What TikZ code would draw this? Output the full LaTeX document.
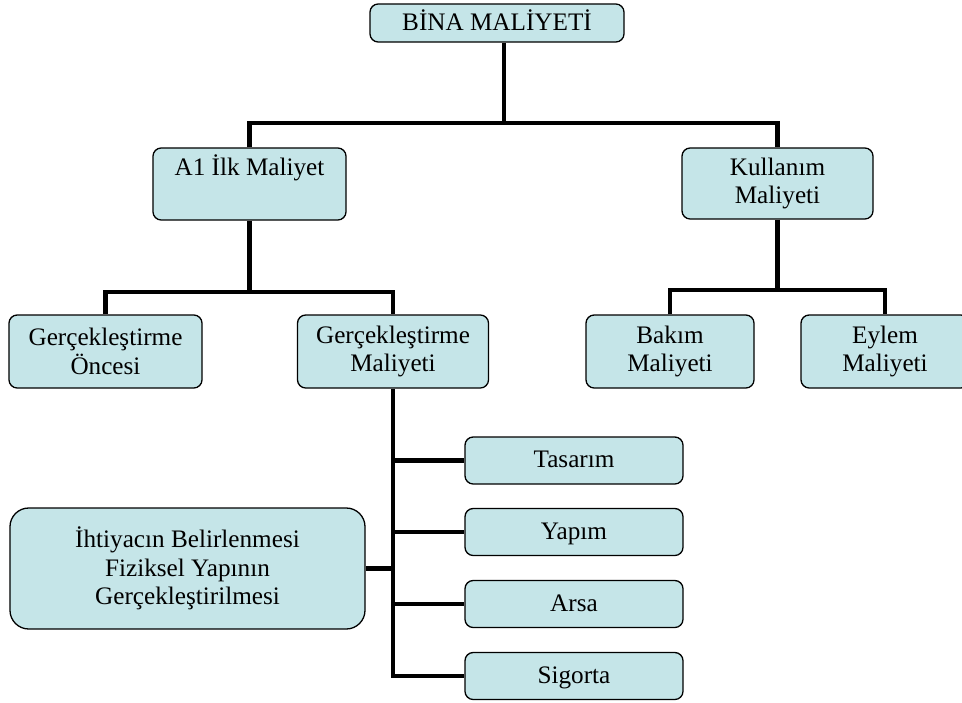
\documentclass[tikz,border=0pt]{standalone}
\usepackage{fontspec}
\setmainfont{Liberation Serif}
\definecolor{boxfill}{RGB}{197,229,232}
\tikzset{
    box/.style={draw, fill=boxfill, line width=1.1pt, rounded corners=7pt, inner sep=0pt,
        align=center, font=\fontsize{21.5}{24.5}\selectfont},
    leaf/.style={box, text height=15pt, text depth=3pt},
    link/.style={line width=4.2pt},
}
\begin{document}
\begin{tikzpicture}[x=0.03cm, y=-0.03cm]
    \useasboundingbox (0,0) rectangle (962,702);
    \clip (0,0) rectangle (962,702);
    \node[leaf, minimum width=7.62cm, minimum height=1.14cm] (bina) at (497,23) {B\.{I}NA MAL\.{I}YET\.{I}};
    \node[box, minimum width=5.79cm, minimum height=2.16cm] (ilk) at (249.5,184) {A1 \.{I}lk Maliyet\\ \strut};
    \node[box, minimum width=5.73cm, minimum height=2.13cm] (kullanim) at (777.5,183.5) {Kullanım\\Maliyeti};
    \node[box, minimum width=5.79cm, minimum height=2.19cm] (oncesi) at (105.5,351.5) {Gerçekleştirme\\Öncesi};
    \node[box, minimum width=5.73cm, minimum height=2.19cm] (gmaliyet) at (393,351.5) {Gerçekleştirme\\Maliyeti};
    \node[box, minimum width=5.04cm, minimum height=2.19cm] (bakim) at (670,351.5) {Bakım\\Maliyeti};
    \node[box, minimum width=5.04cm, minimum height=2.19cm] (eylem) at (885,351.5) {Eylem\\Maliyeti};
    \node[leaf, minimum width=6.54cm, minimum height=1.41cm] (tasarim) at (574,460.5) {Tasarım};
    \node[leaf, minimum width=6.54cm, minimum height=1.41cm] (yapim) at (574,532) {Yapım};
    \node[leaf, minimum width=6.54cm, minimum height=1.41cm] (arsa) at (574,604) {Arsa};
    \node[leaf, minimum width=6.54cm, minimum height=1.41cm] (sigorta) at (574,676) {Sigorta};
    \node[box, rounded corners=16pt, minimum width=10.65cm, minimum height=3.63cm] (ihtiyac) at (187.5,568.5)
        {\.{I}htiyacın Belirlenmesi\\Fiziksel Yapının\\Gerçekleştirilmesi};
    % junctions
    \coordinate (jtop) at (504,123);
    \coordinate (jilk) at (249.5,292);
    \coordinate (jkul) at (777.5,290);
    \draw[link] (bina.south -| jtop) -- (jtop);
    \draw[link] (ilk.north) -- (ilk.north |- jtop) -- (kullanim.north |- jtop) -- (kullanim.north);
    \draw[link] (ilk.south) -- (jilk);
    \draw[link] (oncesi.north) -- (oncesi.north |- jilk) -- (gmaliyet.north |- jilk) -- (gmaliyet.north);
    \draw[link] (kullanim.south) -- (jkul);
    \draw[link] (bakim.north) -- (bakim.north |- jkul) -- (eylem.north |- jkul) -- (eylem.north);
    \draw[link] (gmaliyet.south) -- (gmaliyet.south |- sigorta.west) -- (sigorta.west);
    \foreach \n in {tasarim, yapim, arsa}
        \draw[link] (gmaliyet.south |- \n.west) -- (\n.west);
    \draw[link] (ihtiyac.east) -- (gmaliyet.south |- ihtiyac.east);
\end{tikzpicture}
\end{document}
